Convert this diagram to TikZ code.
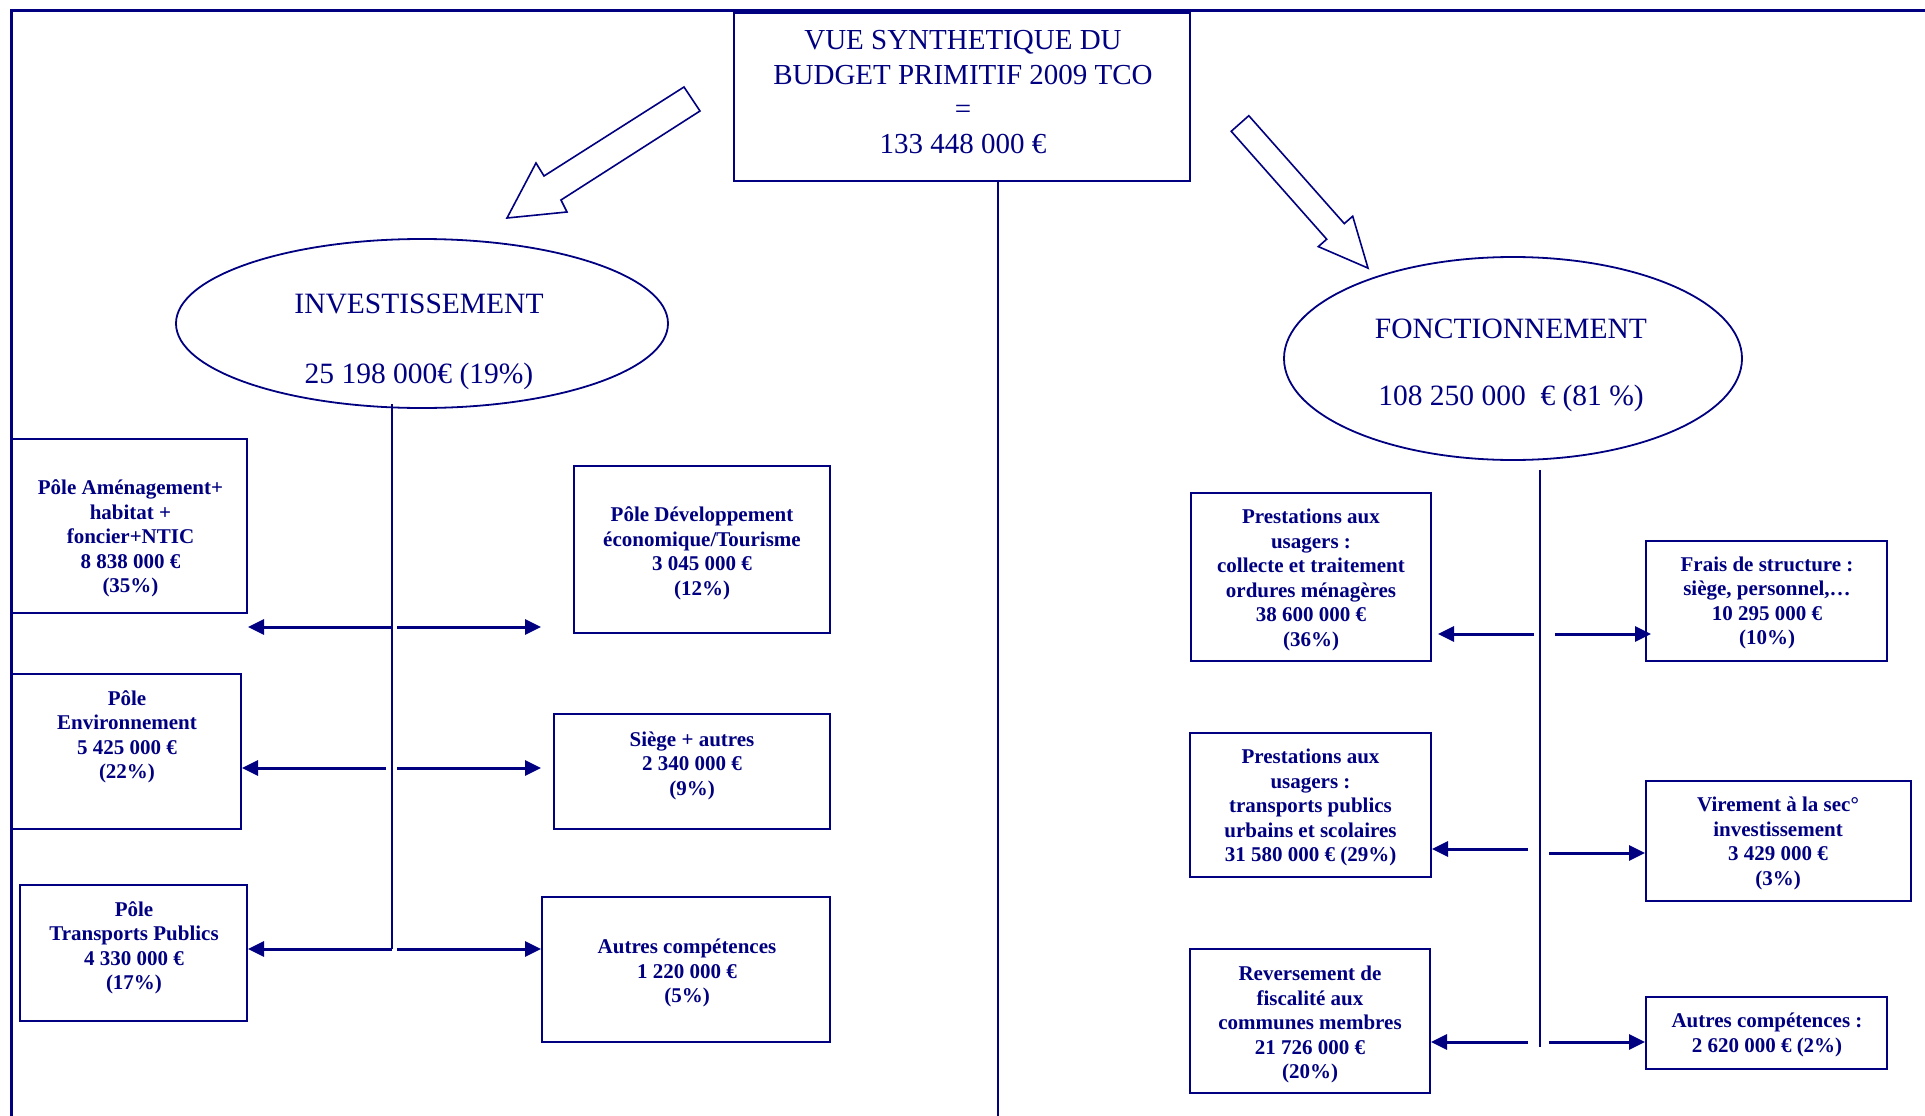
\documentclass[tikz,border=0pt]{standalone}
\usepackage{fontspec}
\setmainfont{Liberation Serif}
\usetikzlibrary{arrows.meta,shapes.geometric}
\definecolor{navyb}{RGB}{0,0,128}
\begin{document}
\begin{tikzpicture}[x=1pt,y=-1pt,
  box/.style={draw=navyb, line width=2pt, rectangle, inner sep=0pt},
  btxt/.style={text=navyb, font=\fontsize{21}{24.5}\selectfont\bfseries, align=center, inner sep=0pt, yshift=-2pt},
  ell/.style={draw=navyb, line width=1.8pt, ellipse, inner sep=0pt},
  etxt/.style={text=navyb, font=\fontsize{29.5}{35}\selectfont, align=center, inner sep=0pt},
  arr/.style={draw=navyb, line width=3pt, -{Triangle[length=16pt,width=15pt]}},
  trunk/.style={draw=navyb, line width=2pt},
  frame/.style={draw=navyb, line width=3pt},
  block/.style={draw=navyb, line width=1.6pt, fill=white, line join=miter},
]
\useasboundingbox (0,0) rectangle (1925,1116);
\fill[white] (0,0) rectangle (1925,1116);

% frame
\draw[frame] (11,1116) -- (11,11) -- (1925,11);

% title
\node[box, minimum width=456pt, minimum height=168pt, fill=white] (T) at (962,97) {};
\node[etxt, font=\fontsize{29}{34.5}\selectfont] (Tt) at (963,92) {VUE SYNTHETIQUE DU\\BUDGET PRIMITIF 2009 TCO\\=\\133 448 000 €};
\coordinate (m0) at (998,181);
\coordinate (m1) at (998,1116);
\draw[trunk] (m0) -- (m1);

% block arrows
\draw[block] (684,87) -- (700,111) -- (561,200) -- (567,212) -- (507,218) -- (536,163) -- (544,176) -- cycle;
\draw[block] (1248.8,115.7) -- (1344.3,223.6) -- (1352.7,216.2) -- (1368,268.1) -- (1318.3,246.6) -- (1326.7,239.2) -- (1231.2,131.3) -- cycle;

% ellipses
\node[ell, minimum width=492pt, minimum height=169pt] (inv) at (422,323.5) {};
\node[etxt] (invt) at (419,342) {INVESTISSEMENT\\[35pt]25 198 000€ (19\%)};
\node[ell, minimum width=458pt, minimum height=203pt] (fon) at (1513,358.5) {};
\node[etxt] (font) at (1511,365) {FONCTIONNEMENT\\[32pt]108 250 000\ \ € (81 \%)};

% left boxes
\node[box, minimum width=235pt, minimum height=174pt] (A) at (129.5,526) {};
\node[btxt] (At) at (130.5,536.5) {Pôle Aménagement+\\habitat +\\foncier+NTIC\\8 838 000 €\\(35\%)};
\node[box, minimum width=256pt, minimum height=167pt] (B) at (702,549.5) {};
\node[btxt] (Bt) at (702,551.5) {Pôle Développement\\économique/Tourisme\\3 045 000 €\\(12\%)};
\node[box, minimum width=229pt, minimum height=155pt] (C) at (126.5,751.5) {};
\node[btxt] (Ct) at (127,734.6) {Pôle\\Environnement\\5 425 000 €\\(22\%)};
\node[box, minimum width=276pt, minimum height=115pt] (D) at (692,771.5) {};
\node[btxt] (Dt) at (692,763.5) {Siège + autres\\2 340 000 €\\(9\%)};
\node[box, minimum width=227pt, minimum height=136pt] (E) at (133.5,953) {};
\node[btxt] (Et) at (134,946) {Pôle\\Transports Publics\\4 330 000 €\\(17\%)};
\node[box, minimum width=288pt, minimum height=145pt] (F) at (686,969.5) {};
\node[btxt] (Ft) at (687,971) {Autres compétences\\1 220 000 €\\(5\%)};

% right boxes
\node[box, minimum width=240pt, minimum height=168pt] (G) at (1311,577) {};
\node[btxt] (Gt) at (1311,578) {Prestations aux\\usagers :\\collecte et traitement\\ordures ménagères\\38 600 000 €\\(36\%)};
\node[box, minimum width=241pt, minimum height=120pt] (H) at (1766.5,601) {};
\node[btxt] (Ht) at (1767,601) {Frais de structure :\\siège, personnel,…\\10 295 000 €\\(10\%)};
\node[box, minimum width=241pt, minimum height=144pt] (I) at (1310.5,805) {};
\node[btxt] (It) at (1310.5,805.5) {Prestations aux\\usagers :\\transports publics\\urbains et scolaires\\31 580 000 € (29\%)};
\node[box, minimum width=265pt, minimum height=120pt] (J) at (1778.5,841) {};
\node[btxt] (Jt) at (1778,841.5) {Virement à la sec°\\investissement\\3 429 000 €\\(3\%)};
\node[box, minimum width=240pt, minimum height=144pt] (K) at (1310,1021) {};
\node[btxt] (Kt) at (1310,1022.5) {Reversement de\\fiscalité aux\\communes membres\\21 726 000 €\\(20\%)};
\node[box, minimum width=241pt, minimum height=72pt] (L) at (1766.5,1033) {};
\node[btxt] (Lt) at (1767,1033) {Autres compétences :\\2 620 000 € (2\%)};

% left trunk and arrows
\coordinate (it0) at (392,404);
\coordinate (it1) at (392,949);
\draw[trunk] (it0) -- (it1);
\coordinate (l1) at (392,627);
\coordinate (r1) at (397,627);
\coordinate (r1e) at (541,627);
\coordinate (l2) at (386,768);
\coordinate (r2) at (397,768);
\coordinate (r2e) at (541,768);
\coordinate (r3) at (397,949);
\draw[arr] (l1) -- (l1 -| A.east);
\draw[arr] (r1) -- (r1e);
\draw[arr] (l2) -- (l2 -| C.east);
\draw[arr] (r2) -- (r2e);
\draw[arr] (it1) -- (it1 -| E.east);
\draw[arr] (r3) -- (r3 -| F.west);

% right trunk and arrows
\coordinate (ft0) at (1540,470);
\coordinate (ft1) at (1540,1047);
\draw[trunk] (ft0) -- (ft1);
\coordinate (fl1) at (1534,634);
\coordinate (fl1e) at (1438,634);
\coordinate (fr1) at (1555,634);
\coordinate (fr1e) at (1651,634);
\coordinate (fl2) at (1528,849);
\coordinate (fr2) at (1549,853);
\coordinate (fl3) at (1528,1042);
\coordinate (fr3) at (1549,1042);
\draw[arr] (fl1) -- (fl1e);
\draw[arr] (fr1) -- (fr1e);
\draw[arr] (fl2) -- (fl2 -| I.east);
\draw[arr] (fr2) -- (fr2 -| J.west);
\draw[arr] (fl3) -- (fl3 -| K.east);
\draw[arr] (fr3) -- (fr3 -| L.west);
\end{tikzpicture}
\end{document}
